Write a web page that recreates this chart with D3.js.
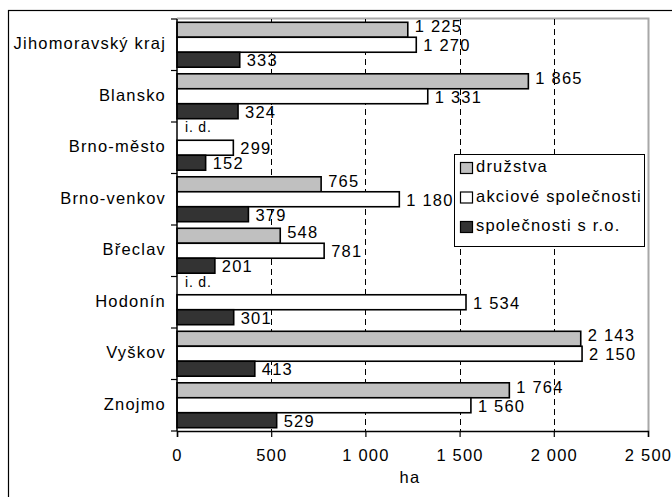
<!DOCTYPE html>
<html>
<head>
<meta charset="utf-8">
<script src="https://cdn.jsdelivr.net/npm/d3@7"></script>
<style>
  html, body { margin: 0; padding: 0; background: #fff; }
  svg text { font-family: "Liberation Sans", Arial, sans-serif; fill: #000; }
</style>
</head>
<body>
<svg id="chart" width="672" height="497"></svg>
<script>
const categories = ["Jihomoravský kraj", "Blansko", "Brno-město", "Brno-venkov", "Břeclav", "Hodonín", "Vyškov", "Znojmo"];
const seriesNames = ["družstva", "akciové společnosti", "společnosti s r.o."];
const druzstva = [1225, 1865, null, 765, 548, null, 2143, 1764];
const akciove = [1270, 1331, 299, 1180, 781, 1534, 2150, 1560];
const sro = [333, 324, 152, 379, 201, 301, 413, 529];
const xTicks = [0, 500, 1000, 1500, 2000, 2500];
const missingLabel = "i. d.";
const axisTitle = "ha";

(function () {
const seriesValues = [druzstva, akciove, sro];
const colors = ["#c0c0c0", "#ffffff", "#333333"];
const labelDy = [-2, 2, 2];

const svg = d3.select("#chart");
const pL = 177, pR = 648, pT = 19, pB = 431;

const locale = d3.formatLocale({ decimal: ",", thousands: " ", grouping: [3], currency: ["", ""] });
const fmt = locale.format(",");

// outer frame
svg.append("rect").attr("x", 8.5).attr("y", 10.5).attr("width", 700).attr("height", 600)
  .attr("fill", "none").attr("stroke", "#000").attr("stroke-width", 1.2);

const x = d3.scaleLinear().domain([0, 2500]).range([pL, pR]);
const y = d3.scaleBand().domain(categories).range([pT, pB]);
const ys = d3.scaleBand().domain(seriesNames).range([0, y.bandwidth()]).paddingInner(0).paddingOuter(0.22);

// plot area border (grey top & right)
svg.append("path")
  .attr("d", `M${pL},${pT - 0.5}H${pR + 0.5}V${pB}`)
  .attr("fill", "none").attr("stroke", "#a8a8a8").attr("stroke-width", 2);

// gridlines
svg.append("g").selectAll("line").data(xTicks.filter(t => t > 0 && t < 2500)).join("line")
  .attr("x1", d => Math.round(x(d)) + 0.5).attr("x2", d => Math.round(x(d)) + 0.5)
  .attr("y1", pT).attr("y2", pB)
  .attr("stroke", "#000").attr("stroke-width", 1).attr("stroke-dasharray", "6,4");

// bars
const fontSize = 16.5;
const ls = "1.2px";
categories.forEach((cat, i) => {
  seriesNames.forEach((s, j) => {
    const v = seriesValues[j][i];
    const by = y(cat) + ys(s);
    const bh = ys.bandwidth();
    if (v == null) {
      svg.append("text").attr("x", x(0) + 8).attr("y", by + bh / 2 - 4)
        .attr("dominant-baseline", "middle").attr("font-size", 14).attr("letter-spacing", "0.8px")
        .text(missingLabel);
      return;
    }
    svg.append("rect").attr("x", x(0)).attr("y", by).attr("width", x(v) - x(0)).attr("height", bh)
      .attr("fill", colors[j]).attr("stroke", "#000").attr("stroke-width", 1.6);
    svg.append("text").attr("x", x(v) + 7).attr("y", by + bh / 2 + labelDy[j])
      .attr("dominant-baseline", "middle").attr("font-size", fontSize).attr("letter-spacing", ls)
      .text(fmt(v));
  });
});

// y axis
const yAxis = svg.append("g").attr("transform", `translate(${pL},0)`);
yAxis.append("line").attr("x1", 0).attr("x2", 0).attr("y1", pT).attr("y2", pB).attr("stroke", "#000").attr("stroke-width", 1.5);
const yBounds = categories.map(c => y(c)).concat([pB]);
yAxis.selectAll("line.tk").data(yBounds).join("line").attr("class", "tk")
  .attr("x1", -6).attr("x2", 0).attr("y1", d => d).attr("y2", d => d).attr("stroke", "#000").attr("stroke-width", 1.2);
yAxis.selectAll("text").data(categories).join("text")
  .attr("x", -11).attr("y", d => y(d) + y.bandwidth() / 2)
  .attr("text-anchor", "end").attr("dominant-baseline", "middle")
  .attr("font-size", fontSize).attr("letter-spacing", ls).text(d => d);

// x axis
const xAxis = svg.append("g").attr("transform", `translate(0,${pB})`)
  .call(d3.axisBottom(x).tickValues(xTicks).tickFormat(fmt).tickSize(6).tickPadding(12));
xAxis.attr("font-family", null).attr("font-size", null);
xAxis.select(".domain").attr("stroke", "#000").attr("stroke-width", 1.5);
xAxis.selectAll(".tick line").attr("stroke", "#000").attr("stroke-width", 1.2);
xAxis.selectAll(".tick text").attr("font-size", fontSize).attr("letter-spacing", ls).attr("fill", "#000");

svg.append("text").attr("x", 410).attr("y", 479).attr("text-anchor", "middle")
  .attr("dominant-baseline", "middle").attr("font-size", fontSize).attr("letter-spacing", ls).text(axisTitle);

// legend
const lg = svg.append("g");
lg.append("rect").attr("x", 454.5).attr("y", 154.5).attr("width", 190).attr("height", 92)
  .attr("fill", "#fff").attr("stroke", "#000").attr("stroke-width", 1);
seriesNames.forEach((s, j) => {
  const cy = 168 + j * 29.5;
  lg.append("rect").attr("x", 460.5).attr("y", cy - 5.5).attr("width", 12).attr("height", 11)
    .attr("fill", colors[j]).attr("stroke", "#000").attr("stroke-width", 1.2);
  lg.append("text").attr("x", 476).attr("y", cy).attr("dominant-baseline", "middle")
    .attr("font-size", fontSize).attr("letter-spacing", ls).text(s);
});
})();
</script>
</body>
</html>
